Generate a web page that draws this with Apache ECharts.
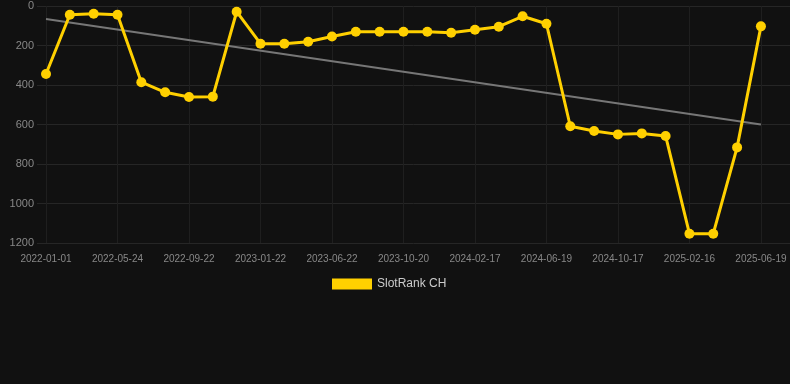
<!DOCTYPE html>
<html>
<head>
<meta charset="utf-8">
<script src="https://cdn.jsdelivr.net/npm/echarts@6/dist/echarts.min.js"></script>
<style>
html,body{margin:0;padding:0;background:#111111;}
#chart{width:790px;height:384px;}
</style>
</head>
<body>
<div id="chart"></div>
<script>
const dates = [
  '2022-01-01','2022-02-18','2022-04-06','2022-05-24','2022-07-03','2022-08-12',
  '2022-09-22','2022-11-01','2022-12-12','2023-01-22','2023-03-12','2023-05-01',
  '2023-06-22','2023-08-01','2023-09-10','2023-10-20','2023-11-29','2024-01-08',
  '2024-02-17','2024-03-29','2024-05-09','2024-06-19','2024-07-29','2024-09-07',
  '2024-10-17','2024-11-26','2025-01-05','2025-02-16','2025-03-28','2025-05-09',
  '2025-06-19'
];
const rankValues = [
  344, 44, 39, 44, 386, 437, 461, 459, 29, 191, 191, 181,
  154, 130, 130, 130, 130, 135, 120, 105, 52, 90, 609, 633,
  650, 645, 658, 1153, 1153, 716, 103
];
const trendIdx = [0, 30];
const trendValues = [66, 600];
const labelIdx = [0, 3, 6, 9, 12, 15, 18, 21, 24, 27, 30];

const chart = echarts.init(document.getElementById('chart'));
chart.setOption({
  backgroundColor: '#111111',
  animation: false,
  grid: { left: 37, right: 0, top: 6, bottom: 141, containLabel: false },
  legend: {
    top: 273, left: 327,
    itemWidth: 40, itemHeight: 11, icon: 'rect', itemGap: 10,
    textStyle: { color: '#cccccc', fontSize: 12, fontFamily: 'Liberation Sans, Arial, sans-serif' },
    data: ['SlotRank CH']
  },
  xAxis: {
    type: 'value',
    min: -0.378, max: 31.22,
    axisLine: { show: false },
    axisTick: { show: false, customValues: labelIdx },
    axisLabel: {
      customValues: labelIdx,
      color: '#888888', fontSize: 10, margin: 11,
      fontFamily: 'Liberation Sans, Arial, sans-serif',
      formatter: v => dates[Math.round(v)] || ''
    },
    splitLine: { show: true, lineStyle: { color: '#1f1f1f', width: 1 } }
  },
  yAxis: {
    type: 'value', inverse: true, min: 0, max: 1200, interval: 200,
    axisLine: { show: false }, axisTick: { show: false },
    axisLabel: { color: '#888888', fontSize: 11, margin: 3, fontFamily: 'Liberation Sans, Arial, sans-serif',
      formatter: v => String(v) },
    splitLine: { show: true, lineStyle: { color: '#262626', width: 1 } }
  },
  series: [
    {
      name: 'SlotRank CH', type: 'line',
      data: rankValues.map((v, i) => [i, v]),
      itemStyle: { color: '#ffd000' },
      lineStyle: { color: '#ffd000', width: 3 },
      symbol: 'circle', symbolSize: 10,
      z: 3
    },
    {
      name: 'trend', type: 'line',
      data: trendIdx.map((x, i) => [x, trendValues[i]]),
      symbol: 'none',
      lineStyle: { color: '#777777', width: 2 },
      itemStyle: { color: '#777777' },
      z: 2
    }
  ]
});
</script>
</body>
</html>
